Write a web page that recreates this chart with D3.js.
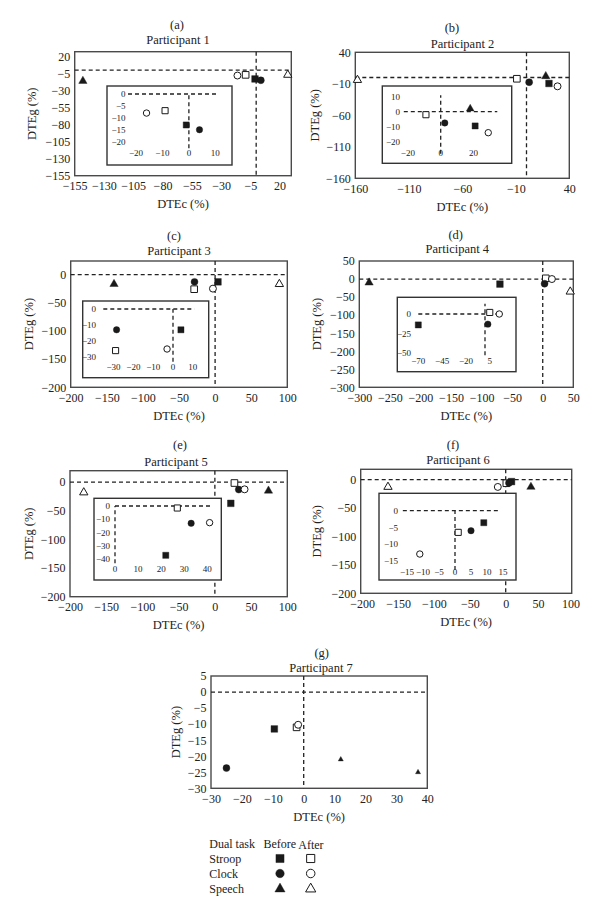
<!DOCTYPE html>
<html><head><meta charset="utf-8">
<script src="https://cdn.jsdelivr.net/npm/d3@7"></script>
<style>
body{margin:0;background:#fff}
svg{display:block}
text{font-family:"Liberation Serif","Times New Roman",serif;fill:#222}
.ins text{opacity:0.999}
</style>
</head><body>
<svg id="c" width="600" height="918"></svg>
<script>
// ---------- DATA ----------
// point order in every participant array:
const seriesNames = ["Stroop before","Stroop after","Clock before","Clock after","Speech before","Speech after"];
const panelLetters = ["(a)","(b)","(c)","(d)","(e)","(f)","(g)"];
const participants = ["Participant 1","Participant 2","Participant 3","Participant 4","Participant 5","Participant 6","Participant 7"];

const dtecP1 = [-1, -9, 4, -16, -148, 27];
const dtegP1 = [-13, -7, -15, -8, -16, -7];
const dtecP2 = [21, -9, 2.5, 29, 18, -158];
const dtegP2 = [-9.5, -2, -7.5, -14, 2, -4];
const dtecP3 = [4, -29, -28.5, -3, -140, 89];
const dtegP3 = [-13, -26, -13, -25, -17, -17];
const dtecP4 = [-70, 5, 3, 15, -284, 45];
const dtegP4 = [-14, 2, -13, 0, -10, -35];
const dtecP5 = [22, 27, 33, 41, 74, -181];
const dtegP5 = [-37, -1.5, -13, -12.5, -15, -18];
const dtecP6 = [9, 1, 5, -11, 39, -164];
const dtegP6 = [-3.6, -6.5, -6, -13, -13, -13];
const dtecP7 = [-9.5, -2.3, -25, -1.8, 12, 37];
const dtegP7 = [-11.5, -11, -23.7, -10.2, -21, -25];

const xTicksA = [-155,-130,-105,-80,-55,-30,-5,20];
const yTicksA = [20,-5,-30,-55,-80,-105,-130,-155];
const xTicksB = [-160,-110,-60,-10,40];
const yTicksB = [40,-10,-60,-110,-160];
const xTicksC = [-200,-150,-100,-50,0,50,100];
const yTicksC = [0,-50,-100,-150,-200];
const xTicksD = [-300,-250,-200,-150,-100,-50,0,50];
const yTicksD = [50,0,-50,-100,-150,-200,-250,-300];
const xTicksE = [-200,-150,-100,-50,0,50,100];
const yTicksE = [0,-50,-100,-150,-200];
const xTicksF = [-200,-150,-100,-50,0,50,100];
const yTicksF = [0,-50,-100,-150,-200];
const xTicksG = [-30,-20,-10,0,10,20,30,40];
const yTicksG = [5,0,-5,-10,-15,-20,-25,-30];

const insetXTicksA = [-20,-10,0,10];       const insetYTicksA = [0,-5,-10,-15,-20];
const insetXTicksB = [-20,0,20];           const insetYTicksB = [10,0,-10,-20];
const insetXTicksC = [-30,-20,-10,0,10];   const insetYTicksC = [0,-10,-20,-30];
const insetXTicksD = [-70,-45,-20,5];      const insetYTicksD = [0,-25,-50];
const insetXTicksE = [0,10,20,30,40];      const insetYTicksE = [0,-10,-20,-30,-40];
const insetXTicksF = [-15,-10,-5,0,5,10,15]; const insetYTicksF = [0,-5,-10,-15];

const legendTasks = ["Stroop","Clock","Speech"];
const legendCols = ["Before","After"];

// ---------- LAYOUT (positions / styling only) ----------
const layout = [
 {frame:[74.7,51.7,291.3,175.7], xDom:[-155,30], yDom:[-155,27], letter:[177,25], title:[178,40], ylabX:32,
  inset:{box:[107,86,232,165], xMap:[[-23,11],[128,218]], yMap:[[-23.5,0],[150,94]], xExt:[-23,11], yExt:[-23.5,0.5], hLine:[-23,11], vLine:[-22.8,0], yLabRight:125.5, xLabBase:155.5}},
 {frame:[355.3,52.3,569.3,178.3], xDom:[-160,40], yDom:[-160,40], letter:[452,27.5], title:[462.5,43.3], ylabX:315,
  inset:{box:[382.3,86,511.7,163.3], xMap:[[0,20],[440.7,473.5]], yMap:[[0,-20],[111.7,141.7]], xExt:[-22.5,34.5], yExt:[-28,11], hLine:[-22.5,34.5], vLine:[-28,11], yLabRight:400, xLabBase:156}},
 {frame:[70.7,261,287.3,387.3], xDom:[-200,100], yDom:[-200,24], letter:[174,235.7], title:[179,251], ylabX:28.3,
  inset:{box:[82.7,301,208.7,377.7], xMap:[[0,10],[173,192.8]], yMap:[[0,-10],[309,325]], xExt:[-35.2,10.8], yExt:[-33,0.5], hLine:[-35.2,10.8], vLine:[-33,0], yLabRight:96, xLabBase:370}},
 {frame:[359.3,261,573.3,387.3], xDom:[-300,50], yDom:[-300,50], letter:[455.7,235], title:[457.3,249], ylabX:316.7,
  inset:{box:[397.3,297.3,516,371.7], xMap:[[-70,0],[418.3,485]], yMap:[[0,-50],[314,353]], xExt:[-75,18], yExt:[-55,13], hLine:[-70,13], vLine:[-53,13], yLabRight:411, xLabBase:364}},
 {frame:[70,470.7,287.3,596.7], xDom:[-200,100], yDom:[-200,20], letter:[180,444.3], title:[176,461.7], ylabX:28.3,
  inset:{box:[94,498.3,221.3,580], xMap:[[0,40],[115,207.3]], yMap:[[0,-40],[506,559.3]], xExt:[0,42], yExt:[-43,0.5], hLine:[0,41.5], vLine:[-43,0], yLabRight:110, xLabBase:571.5}},
 {frame:[360.7,469.3,571.7,593.3], xDom:[-202,0,102], xRange:[360.7,505.7,571.7], yDom:[-200,18], letter:[453,444.3], title:[458,459.3], ylabX:316.7,
  inset:{box:[379,493.3,516,580], xMap:[[0,15],[455,503]], yMap:[[0,-15],[510.7,560.7]], xExt:[-16.5,14], yExt:[-17.8,0.5], hLine:[-16.3,14], vLine:[-17.8,0], yLabRight:398, xLabBase:575}},
 {frame:[211,676,427.3,788.3], xDom:[-30,40], yDom:[-30,5], letter:[321.7,652.7], title:[321,667.3], ylabX:176,
  smallSpeech:true, inset:null}
];

const panels = [
 {xs:dtecP1, ys:dtegP1, xt:xTicksA, yt:yTicksA, ixt:insetXTicksA, iyt:insetYTicksA},
 {xs:dtecP2, ys:dtegP2, xt:xTicksB, yt:yTicksB, ixt:insetXTicksB, iyt:insetYTicksB},
 {xs:dtecP3, ys:dtegP3, xt:xTicksC, yt:yTicksC, ixt:insetXTicksC, iyt:insetYTicksC},
 {xs:dtecP4, ys:dtegP4, xt:xTicksD, yt:yTicksD, ixt:insetXTicksD, iyt:insetYTicksD},
 {xs:dtecP5, ys:dtegP5, xt:xTicksE, yt:yTicksE, ixt:insetXTicksE, iyt:insetYTicksE},
 {xs:dtecP6, ys:dtegP6, xt:xTicksF, yt:yTicksF, ixt:insetXTicksF, iyt:insetYTicksF},
 {xs:dtecP7, ys:dtegP7, xt:xTicksG, yt:yTicksG, ixt:null, iyt:null}
];

const fmt = v => (v < 0 ? "\u2212" + Math.abs(v) : String(v));
const svg = d3.select("#c");
const INK = "#1a1a1a";
const TICK_FS = 12, LABEL_FS = 12.5, INSET_FS = 9;

function markerSpec(i, small) {
  const task = seriesNames[i].split(" ")[0];
  const filled = seriesNames[i].endsWith("before");
  let type = task === "Stroop" ? d3.symbolSquare : task === "Clock" ? d3.symbolCircle : d3.symbolTriangle;
  let size = task === "Stroop" ? 44 : task === "Clock" ? 38 : 30;
  let f = filled;
  if (small && task === "Speech") { size = 11; f = true; }
  return {type, size, filled: f};
}
function drawMarker(g, spec, x, y, scale=1) {
  g.append("path")
   .attr("d", d3.symbol().type(spec.type).size(spec.size*scale)())
   .attr("transform", `translate(${x},${y})`)
   .attr("fill", spec.filled ? INK : "#fff")
   .attr("stroke", INK)
   .attr("stroke-width", spec.filled ? 0.4 : 1);
}

panels.forEach((p, k) => {
  const L = layout[k];
  const [x0,y0,x1,y1] = L.frame;
  const g = svg.append("g");
  const x = d3.scaleLinear().domain(L.xDom).range(L.xRange || [x0, x1]);
  const y = d3.scaleLinear().domain(L.yDom).range([y1, y0]);

  g.append("text").attr("x", L.letter[0]).attr("y", L.letter[1]).attr("dy","0.35em")
   .attr("text-anchor","middle").attr("font-size", LABEL_FS).text(panelLetters[k]);
  g.append("text").attr("x", L.title[0]).attr("y", L.title[1]).attr("dy","0.35em")
   .attr("text-anchor","middle").attr("font-size", LABEL_FS).text(participants[k]);

  g.append("rect").attr("x", x0).attr("y", y0).attr("width", x1-x0).attr("height", y1-y0)
   .attr("fill","#fff").attr("stroke","#4a4a4a").attr("stroke-width",1.4);

  const ax = g.append("g").attr("transform", `translate(0,${y1})`)
    .call(d3.axisBottom(x).tickValues(p.xt).tickFormat(fmt).tickSize(0).tickPadding(6));
  const ay = g.append("g").attr("transform", `translate(${x0},0)`)
    .call(d3.axisLeft(y).tickValues(p.yt).tickFormat(fmt).tickSize(0).tickPadding(4.5));
  [ax, ay].forEach(a => {
    a.select(".domain").remove();
    a.selectAll("text").attr("font-size", TICK_FS).attr("fill","#222")
     .attr("font-family","Liberation Serif, serif");
  });

  g.append("line").attr("x1", x0).attr("x2", x1).attr("y1", y(0)).attr("y2", y(0))
   .attr("stroke", "#222").attr("stroke-width",1.3).attr("stroke-dasharray","4,3");
  g.append("line").attr("x1", x(0)).attr("x2", x(0)).attr("y1", y0).attr("y2", y1)
   .attr("stroke", "#222").attr("stroke-width",1.3).attr("stroke-dasharray","4,3");

  g.append("text").attr("x", (x0+x1)/2).attr("y", y1+28).attr("dy","0.35em")
   .attr("text-anchor","middle").attr("font-size",LABEL_FS).text("DTEc (%)");
  g.append("text").attr("transform", `translate(${L.ylabX},${(y0+y1)/2}) rotate(-90)`).attr("dy","0.35em")
   .attr("text-anchor","middle").attr("font-size",LABEL_FS).text("DTEg (%)");

  p.xs.forEach((v, i) => drawMarker(g, markerSpec(i, L.smallSpeech), x(v), y(p.ys[i])));

  if (L.inset) {
    const I = L.inset;
    const [bx0,by0,bx1,by1] = I.box;
    const ig = g.append("g").attr("class","ins");
    ig.append("rect").attr("x", bx0).attr("y", by0).attr("width", bx1-bx0).attr("height", by1-by0)
      .attr("fill","#fff").attr("stroke","#333").attr("stroke-width",1.4);
    const ix = d3.scaleLinear().domain(I.xMap[0]).range(I.xMap[1]);
    const iy = d3.scaleLinear().domain(I.yMap[0]).range(I.yMap[1]);
    ig.append("line").attr("x1", ix(I.hLine[0])).attr("x2", ix(I.hLine[1])).attr("y1", iy(0)).attr("y2", iy(0))
      .attr("stroke","#222").attr("stroke-width",1.3).attr("stroke-dasharray","4,3");
    ig.append("line").attr("x1", ix(0)).attr("x2", ix(0)).attr("y1", iy(I.vLine[0])).attr("y2", iy(I.vLine[1]))
      .attr("stroke","#222").attr("stroke-width",1.3).attr("stroke-dasharray","4,3");
    ig.selectAll(".ity").data(p.iyt).join("text")
      .attr("x", I.yLabRight).attr("y", d => iy(d)).attr("dy","0.35em")
      .attr("text-anchor","end").attr("font-size",INSET_FS).text(fmt);
    ig.selectAll(".itx").data(p.ixt).join("text")
      .attr("x", d => ix(d)).attr("y", I.xLabBase)
      .attr("text-anchor","middle").attr("font-size",INSET_FS).text(fmt);
    p.xs.forEach((v, i) => {
      const w = p.ys[i];
      if (v >= I.xExt[0] && v <= I.xExt[1] && w >= I.yExt[0] && w <= I.yExt[1])
        drawMarker(ig, markerSpec(i, false), ix(v), iy(w), 0.85);
    });
  }
});

// ---------- LEGEND ----------
const lg = svg.append("g");
lg.append("text").attr("x", 209.3).attr("y", 848).attr("font-size", 12).text("Dual task");
lg.append("text").attr("x", 263.5).attr("y", 848).attr("font-size", 12).text(legendCols[0]);
lg.append("text").attr("x", 298.3).attr("y", 849).attr("font-size", 12).text(legendCols[1]);
const rowY = [858.5, 873.5, 889];
const colX = [280, 310.7];
legendTasks.forEach((t, r) => {
  lg.append("text").attr("x", 209.3).attr("y", rowY[r]).attr("dy","0.35em").attr("font-size", 12).text(t);
  [0,1].forEach(c => {
    const idx = r*2 + c;
    const spec = markerSpec(idx, false);
    spec.size = spec.size * 1.5;
    drawMarker(lg, spec, colX[c], rowY[r]);
  });
});
</script>
</body></html>
